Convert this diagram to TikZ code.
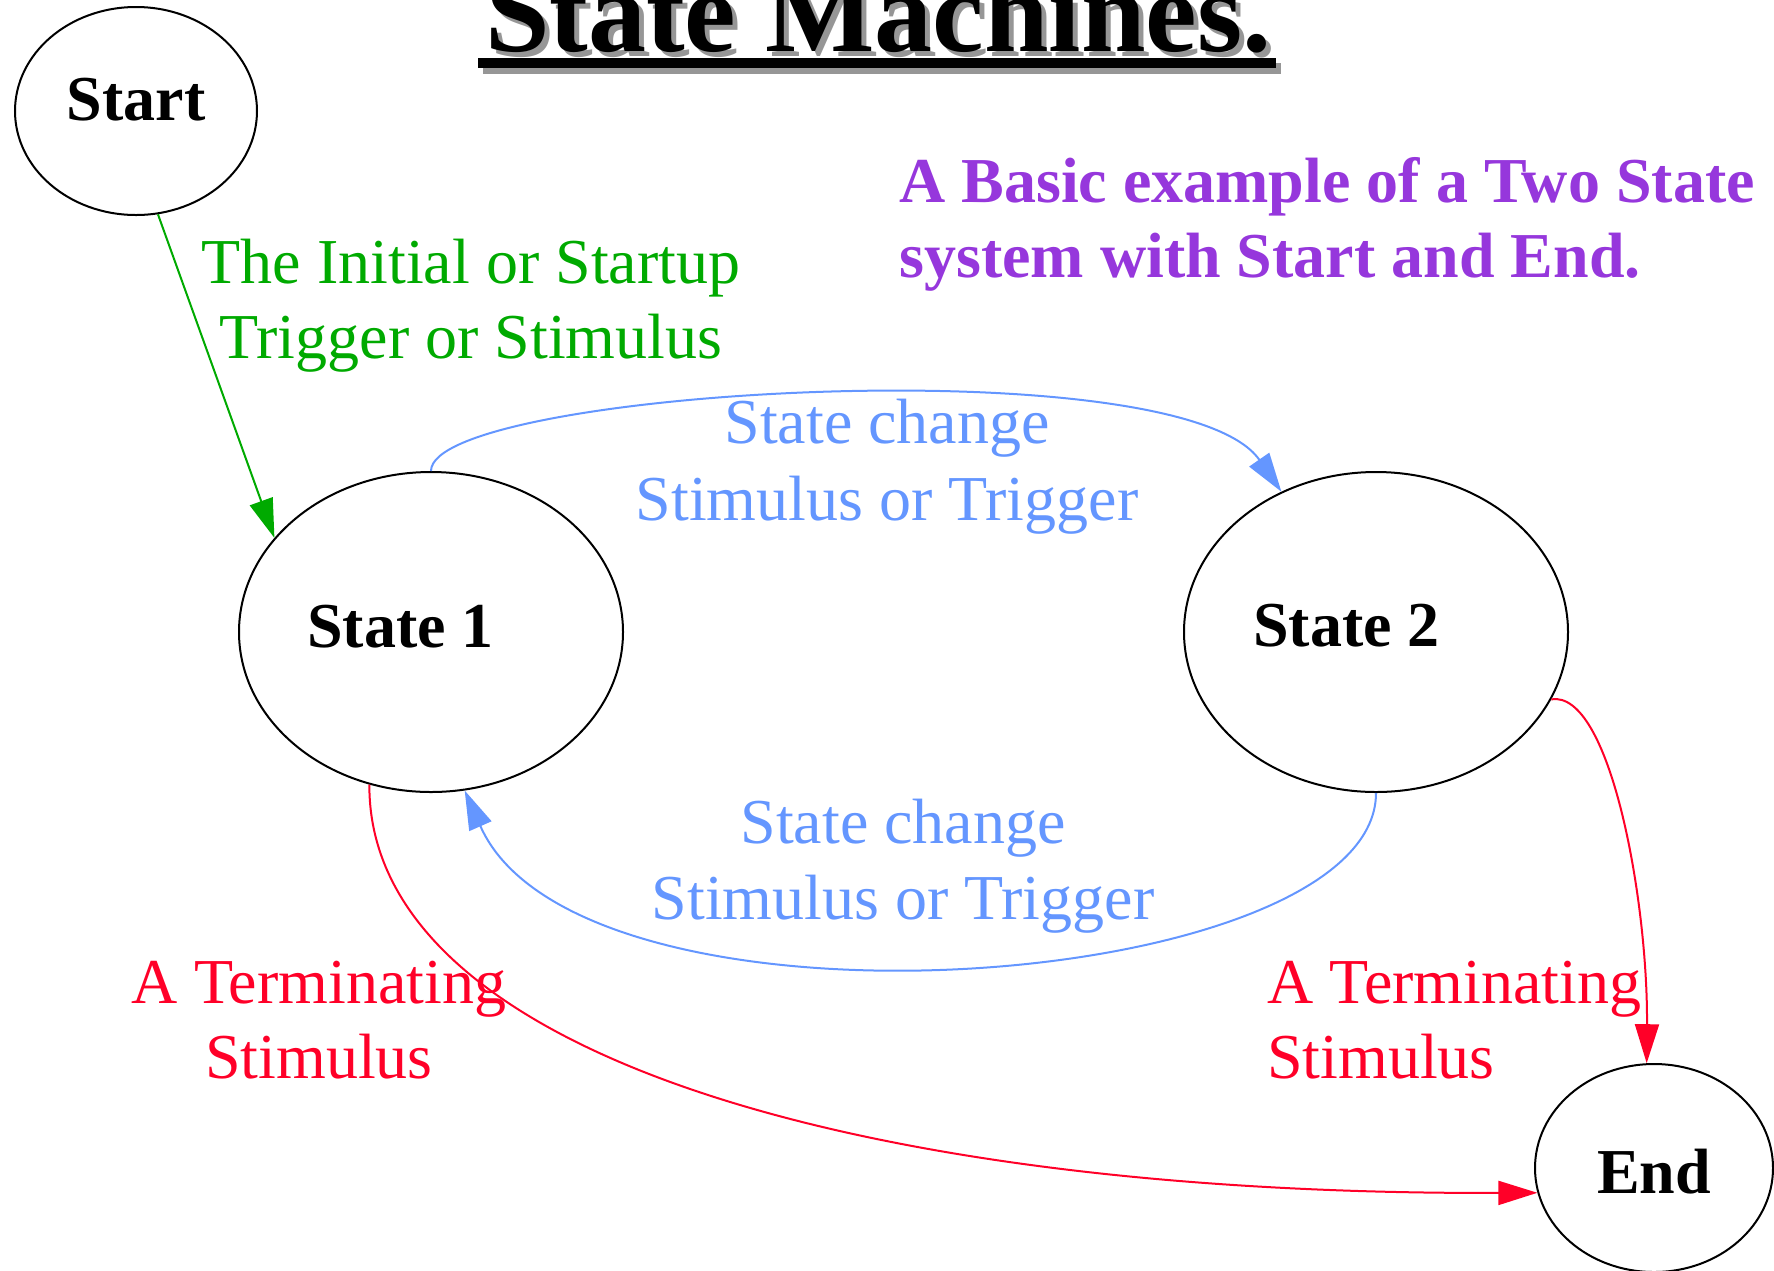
\documentclass[tikz,border=0pt]{standalone}
\usepackage{fontspec}
\setmainfont{Liberation Serif}
\usetikzlibrary{shapes.geometric,arrows.meta}

\definecolor{initgreen}{RGB}{0,170,0}
\definecolor{changeblue}{RGB}{100,150,255}
\definecolor{termred}{RGB}{255,0,40}
\definecolor{notepurple}{RGB}{150,55,220}
\definecolor{shadowgray}{RGB}{150,150,150}

\begin{document}
\begin{tikzpicture}[x=1pt,y=-1pt,
  state/.style={draw=black, line width=2pt, ellipse, inner sep=0pt},
  statetxt/.style={font=\fontsize{64}{76}\selectfont\bfseries, inner sep=0pt},
  txt/.style={font=\fontsize{64}{76}\selectfont, inner sep=0pt},
  bold txt/.style={font=\fontsize{64}{76}\selectfont\bfseries, inner sep=0pt},
  titletxt/.style={font=\fontsize{116}{130}\selectfont\bfseries, inner sep=0pt},
  conn/.style={line width=2pt, -{Triangle[length=39pt,width=24pt]}},
]
\useasboundingbox (0,0) rectangle (1774,1270);

% title with drop shadow and shadowed underline
\fill[shadowgray] (483,63) rectangle (1281,74);
\fill[black] (478,58) rectangle (1276,68);
\node[titletxt, anchor=base west, text=shadowgray] (titleshadow) at (490,56) {State Machines.};
\node[titletxt, anchor=base west] (title) at (485,51) {State Machines.};

% states
\node[state, minimum width=242pt, minimum height=208pt] (st) at (136,111) {};
\node[state, minimum width=384pt, minimum height=320pt] (s1) at (431,632) {};
\node[state, minimum width=384pt, minimum height=320pt] (s2) at (1376,632) {};
\node[state, minimum width=238pt, minimum height=208pt] (en) at (1654,1168) {};

\node[statetxt, anchor=base] (sttext) at (136,120) {Start};
\node[statetxt, anchor=base west] (s1text) at (307,647) {State 1};
\node[statetxt, anchor=base west] (s2text) at (1253,646) {State 2};
\node[statetxt, anchor=base] (entext) at (1654,1193) {End};

% transitions
\draw[conn, initgreen] (st.282) -- (s1.149);
\draw[conn, changeblue] (s1.90) .. controls (431,390) and (1180,345) .. (s2.124);
\draw[conn, changeblue] (s2.270) .. controls (1376,992) and (580,1052) .. (s1.282);
\draw[conn, termred] (s1.248) .. controls (368,1050) and (850,1195) .. (en.192);
\draw[conn, termred] (s2.339) .. controls (1610,690) and (1648,900) .. (en.94);

% transition labels
\node[txt, text=initgreen, anchor=base] (init1) at (471,283) {The Initial or Startup};
\node[txt, text=initgreen, anchor=base] (init2) at (471,358) {Trigger or Stimulus};

\node[txt, text=changeblue, anchor=base] (upA) at (887,443) {State change};
\node[txt, text=changeblue, anchor=base] (upB) at (887,520) {Stimulus or Trigger};

\node[txt, text=changeblue, anchor=base] (downA) at (903,843) {State change};
\node[txt, text=changeblue, anchor=base] (downB) at (903,919) {Stimulus or Trigger};

\node[txt, text=termred, anchor=base] (termL1) at (319,1003) {A Terminating};
\node[txt, text=termred, anchor=base] (termL2) at (319,1078) {Stimulus};

\node[txt, text=termred, anchor=base west] (termR1) at (1267,1003) {A Terminating};
\node[txt, text=termred, anchor=base west] (termR2) at (1267,1078) {Stimulus};

% description
\node[bold txt, text=notepurple, anchor=base west] (note1) at (899,202) {A Basic example of a Two State};
\node[bold txt, text=notepurple, anchor=base west] (note2) at (899,277) {system with Start and End.};
\end{tikzpicture}
\end{document}
